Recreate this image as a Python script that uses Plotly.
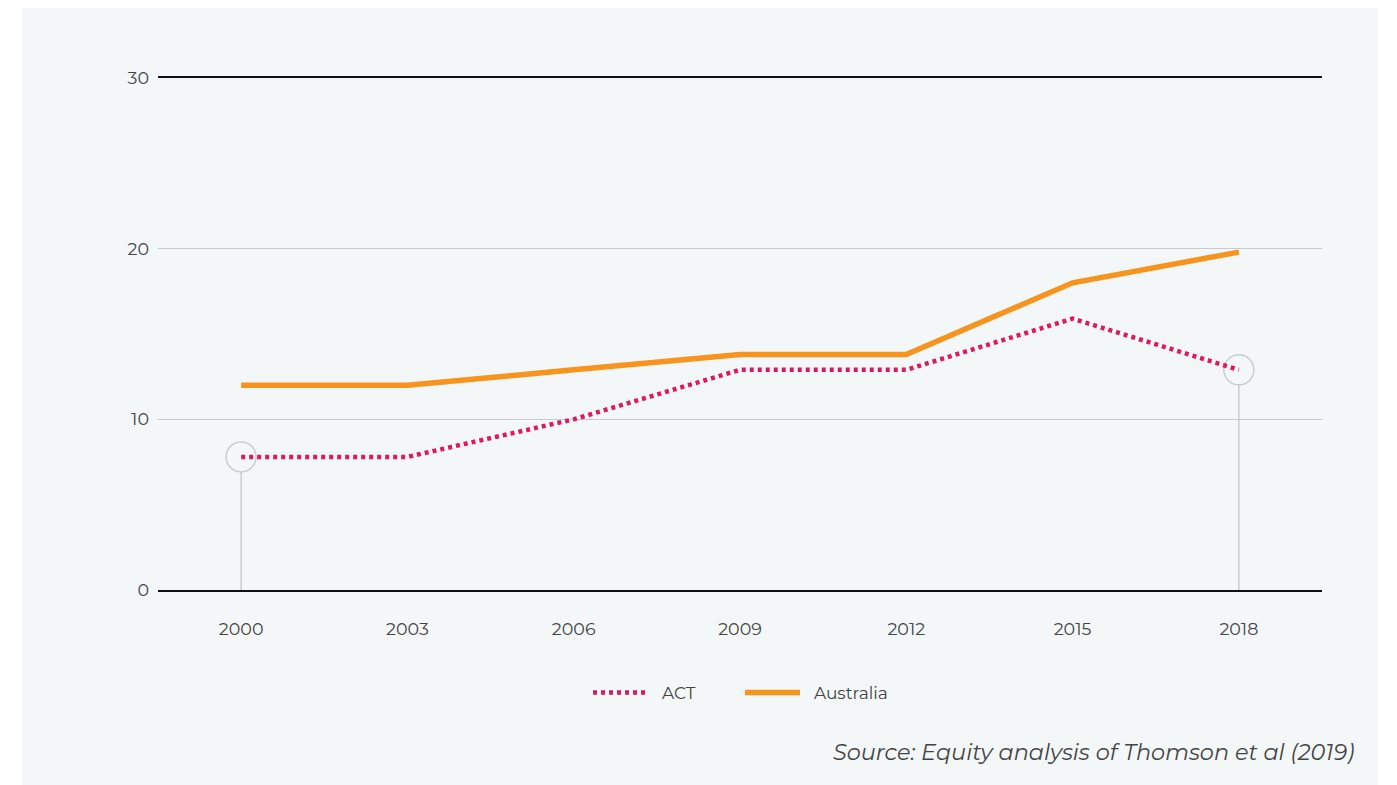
import plotly.graph_objects as go

years = ["2000", "2003", "2006", "2009", "2012", "2015", "2018"]
act = [7.8, 7.8, 10.0, 12.9, 12.9, 15.9, 12.9]
australia = [12.0, 12.0, 12.9, 13.8, 13.8, 18.0, 19.8]
highlight_idx = [0, 6]
y_ticks = [0, 10, 20, 30]
series_names = ["ACT", "Australia"]

BG = "#F3F7F8"
TXT = "#444444"
PAD = "\u00a0\u00a0"

# page offset of the plot div (body margin)
OFF = 8
L, R, T, B = 158 - OFF, 1397 - 1322 + OFF, 78 - OFF, 785 - 590 + OFF
PW, PH = 1164, 512

fig = go.Figure()

for i in highlight_idx:
    fig.add_trace(go.Scatter(x=[years[i], years[i]], y=[0, act[i]], mode="lines",
                             line=dict(color="#C9CCCD", width=1.5), showlegend=False,
                             hoverinfo="skip"))
fig.add_trace(go.Scatter(x=[years[i] for i in highlight_idx], y=[act[i] for i in highlight_idx],
                         mode="markers", showlegend=False, hoverinfo="skip",
                         marker=dict(symbol="circle", size=30, color=BG,
                                     line=dict(color="#C9CCCD", width=1.5))))

fig.add_trace(go.Scatter(x=years, y=act, mode="lines", name=PAD + series_names[0],
                         line=dict(color="#E0195A", width=4.5, dash="4px,4px")))
fig.add_trace(go.Scatter(x=years, y=australia, mode="lines", name=PAD + series_names[1],
                         line=dict(color="#F7941D", width=5.5)))

fig.add_shape(type="rect", xref="paper", yref="paper",
              x0=-(158 - 22) / PW, x1=1 + (1378 - 1322) / PW,
              y0=-(800 - 590) / PH, y1=1 + (78 - 5) / PH,
              fillcolor=BG, line=dict(width=0), layer="below")

fig.add_annotation(text="<i>Source: Equity analysis of Thomson et al (2019)</i>",
                   xref="paper", yref="paper", x=1 + (1356 - 1322) / PW,
                   y=-(752 - 590) / PH, xanchor="right", yanchor="middle",
                   showarrow=False, font=dict(size=22.4, color=TXT))

fig.update_layout(
    width=1397, height=785,
    margin=dict(l=L, r=R, t=T, b=B),
    paper_bgcolor="white", plot_bgcolor=BG,
    font=dict(family="Montserrat, 'Open Sans', Lato, sans-serif", color=TXT, size=17),
    showlegend=True,
    legend=dict(orientation="h", x=0.5, xanchor="center", y=-(693 - 590) / PH,
                yanchor="middle", bgcolor="rgba(0,0,0,0)", font=dict(size=17, color=TXT),
                itemwidth=55, entrywidth=82, entrywidthmode="pixels", traceorder="normal"),
    xaxis=dict(type="category", categoryorder="array", categoryarray=years,
               range=[-0.5, 6.5], showgrid=False, showline=True, mirror=True,
               linecolor="#111111", linewidth=1.5, ticks="", tickfont=dict(size=17.5, color=TXT),
               ticklabelstandoff=22, fixedrange=True),
    yaxis=dict(range=[0, 30], tickvals=y_ticks, showgrid=True, gridcolor="#C8CBCC",
               gridwidth=1, zeroline=False, showline=False, ticks="",
               tickfont=dict(size=17.5, color=TXT), ticklabelstandoff=8),
)

fig.write_html("out.html")
